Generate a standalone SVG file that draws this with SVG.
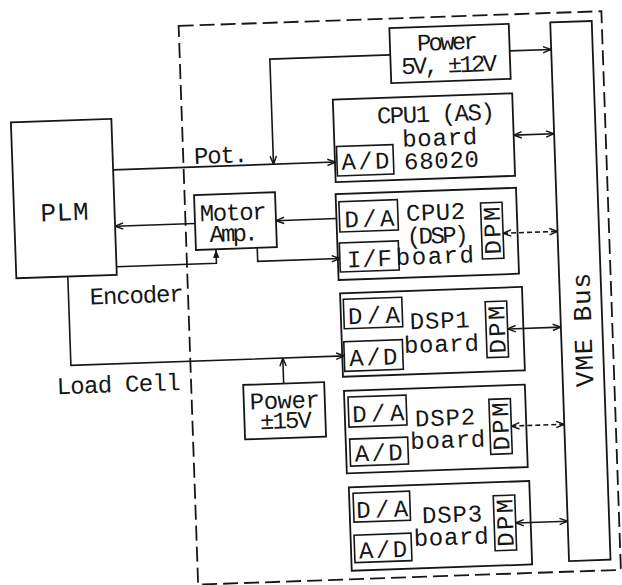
<svg xmlns="http://www.w3.org/2000/svg" width="622" height="585" viewBox="0 0 622 585">
<defs>
<style>
.b{fill:none;stroke:#161616;stroke-width:1.8}
.s{fill:none;stroke:#161616;stroke-width:1.6}
.c{fill:none;stroke:#161616;stroke-width:1.6}
.d{stroke-dasharray:5 3}
.fr{fill:none;stroke:#161616;stroke-width:1.8;stroke-dasharray:15 6}
.t{font-family:"Liberation Mono","DejaVu Sans Mono",monospace;font-size:24px;fill:#161616;text-anchor:middle}
.l{font-family:"Liberation Mono","DejaVu Sans Mono",monospace;font-size:24px;fill:#161616;text-anchor:start}
</style>
<marker id="a" viewBox="0 0 10 10" refX="10" refY="5" markerWidth="9" markerHeight="9" markerUnits="userSpaceOnUse" orient="auto-start-reverse">
<path d="M1,1.5 L10,5 L1,8.5" fill="none" stroke="#161616" stroke-width="1.6"/>
</marker>
<marker id="f" viewBox="0 0 10 10" refX="10" refY="5" markerWidth="8" markerHeight="8" markerUnits="userSpaceOnUse" orient="auto">
<path d="M0,1 L10,5 L0,9 Z" fill="#161616"/>
</marker>
</defs>
<rect width="622" height="585" fill="#ffffff"/>
<g transform="rotate(-2 311 292)">
<rect id="frame" class="fr" x="188" y="21.5" width="423" height="559"/>

<g id="plm">
<rect class="b" x="17" y="112" width="100.5" height="156"/>
<text class="t" x="67.5" y="212" style="font-size:26px" textLength="48" lengthAdjust="spacing">PLM</text>
</g>

<g id="motor-amp">
<rect class="b" x="197.5" y="191" width="81" height="55"/>
<text class="t" x="236" y="217.5" textLength="67" lengthAdjust="spacing">Motor</text>
<text class="t" x="236" y="238.5" textLength="49" lengthAdjust="spacing">Amp.</text>
</g>

<g id="power-5v">
<rect class="b" x="398.5" y="31" width="119.5" height="55"/>
<text class="t" x="456" y="54.7" textLength="61" lengthAdjust="spacing">Power</text>
<text class="t" x="457" y="77.5" textLength="96" lengthAdjust="spacing">5V, ±12V</text>
</g>

<g id="power-15v">
<rect class="b" x="240" y="382.5" width="81" height="54.5"/>
<text class="t" x="281" y="407.4" textLength="70" lengthAdjust="spacing">Power</text>
<text class="t" x="281.5" y="427.4" textLength="52" lengthAdjust="spacing">±15V</text>
</g>

<g id="vme-bus">
<rect class="b" x="559.5" y="31" width="41.5" height="539"/>
<text class="t" transform="translate(581 339.5) rotate(-90)" x="0" y="9" style="font-size:26px" textLength="114" lengthAdjust="spacing">VME Bus</text>
</g>

<g id="cpu1">
<rect class="b" x="339.5" y="100.5" width="179.5" height="82.5"/>
<text class="t" x="442" y="126" textLength="118" lengthAdjust="spacing">CPU1 (AS)</text>
<text class="t" x="445" y="150" textLength="75" lengthAdjust="spacing">board</text>
<text class="t" x="446" y="172.8" textLength="75" lengthAdjust="spacing">68020</text>
<rect class="s" x="341.5" y="147.5" width="56.5" height="29.5"/>
<text class="t" x="370" y="171" textLength="48" lengthAdjust="spacing">A/D</text>
</g>

<g id="cpu2">
<rect class="b" x="339" y="195" width="180.5" height="86"/>
<text class="t" x="438.3" y="224.3" textLength="59" lengthAdjust="spacing">CPU2</text>
<text class="t" x="439.5" y="247.6" textLength="62" lengthAdjust="spacing">(DSP)</text>
<text class="l" x="397" y="268" textLength="78" lengthAdjust="spacing">board</text>
<rect class="s" x="342" y="202.7" width="58.5" height="30.3"/>
<text class="t" x="372" y="228.8" textLength="50" lengthAdjust="spacing">D/A</text>
<rect class="s" x="341" y="244" width="59" height="29"/>
<text class="t" x="370.5" y="268.7" textLength="45" lengthAdjust="spacing">I/F</text>
<rect class="s" x="483.5" y="209" width="21.5" height="56"/>
<text class="t" transform="translate(494.3 237) rotate(-90)" x="0" y="8" textLength="48" lengthAdjust="spacing">DPM</text>
</g>

<g id="dsp1">
<rect class="b" x="340" y="294.3" width="182" height="83.5"/>
<text class="t" x="438.7" y="332.8" textLength="60" lengthAdjust="spacing">DSP1</text>
<text class="l" x="402" y="356.3" textLength="75" lengthAdjust="spacing">board</text>
<rect class="s" x="343" y="300.4" width="58.5" height="29.5"/>
<text class="t" x="373" y="325.5" textLength="52" lengthAdjust="spacing">D/A</text>
<rect class="s" x="342" y="342.8" width="58.6" height="29.7"/>
<text class="t" x="371" y="367.2" textLength="48" lengthAdjust="spacing">A/D</text>
<rect class="s" x="484.7" y="307.8" width="21.5" height="56"/>
<text class="t" transform="translate(495.5 336) rotate(-90)" x="0" y="8" textLength="48" lengthAdjust="spacing">DPM</text>
</g>

<g id="dsp2">
<rect class="b" x="340.5" y="392" width="181" height="82.5"/>
<text class="t" x="440.6" y="430" textLength="60" lengthAdjust="spacing">DSP2</text>
<text class="l" x="405" y="452.5" textLength="75" lengthAdjust="spacing">board</text>
<rect class="s" x="344.3" y="398.3" width="58" height="30"/>
<text class="t" x="374" y="423.5" textLength="52" lengthAdjust="spacing">D/A</text>
<rect class="s" x="344.5" y="440.4" width="58" height="27"/>
<text class="t" x="373" y="463" textLength="48" lengthAdjust="spacing">A/D</text>
<rect class="s" x="485" y="405.5" width="21.5" height="55"/>
<text class="t" transform="translate(495.8 433) rotate(-90)" x="0" y="8" textLength="48" lengthAdjust="spacing">DPM</text>
</g>

<g id="dsp3">
<rect class="b" x="342" y="488.5" width="180.5" height="83.5"/>
<text class="t" x="444.2" y="527" textLength="60" lengthAdjust="spacing">DSP3</text>
<text class="l" x="405" y="549.5" textLength="75" lengthAdjust="spacing">board</text>
<rect class="s" x="346" y="494.5" width="56.5" height="29"/>
<text class="t" x="374.5" y="519.5" textLength="52" lengthAdjust="spacing">D/A</text>
<rect class="s" x="345.5" y="536.5" width="57" height="27.5"/>
<text class="t" x="374" y="560" textLength="48" lengthAdjust="spacing">A/D</text>
<rect class="s" x="486" y="502" width="21.5" height="55"/>
<text class="t" transform="translate(496.8 529.5) rotate(-90)" x="0" y="8" textLength="48" lengthAdjust="spacing">DPM</text>
</g>

<g id="connectors">
<path class="c" d="M117.5,163 H340" marker-end="url(#a)"/>
<text class="l" x="198.8" y="160" textLength="54" lengthAdjust="spacing">Pot.</text>
<path class="c" d="M398.5,57.8 H278 V163" marker-end="url(#a)"/>
<path class="c" d="M518,58 H559.5" marker-end="url(#a)"/>
<path class="c" d="M519,142.3 H559.5" marker-start="url(#a)" marker-end="url(#a)"/>
<path class="c" d="M339,219.5 H278.5" marker-end="url(#a)"/>
<path class="c" d="M197.5,219.5 H117.5" marker-end="url(#a)"/>
<path class="c" d="M258.8,246 V259.5 H341" marker-end="url(#a)"/>
<path class="c" d="M117.5,260 H217.5 V246.5" marker-end="url(#f)"/>
<text class="l" x="89.6" y="296.9" textLength="94" lengthAdjust="spacing">Encoder</text>
<path class="c" d="M68.5,268 V357 H342" marker-end="url(#a)"/>
<text class="l" x="53.5" y="385.3" textLength="124" lengthAdjust="spacing">Load Cell</text>
<path class="c" d="M280.5,382.5 V357" marker-end="url(#a)"/>
<path class="c d" d="M505,240 H559.5" marker-start="url(#a)" marker-end="url(#a)"/>
<path class="c" d="M506.2,335.8 H559.5" marker-start="url(#a)" marker-end="url(#a)"/>
<path class="c d" d="M506.5,433 H559.5" marker-start="url(#a)" marker-end="url(#a)"/>
<path class="c" d="M507.5,530 H559.5" marker-start="url(#a)" marker-end="url(#a)"/>
</g>
</g>
</svg>
